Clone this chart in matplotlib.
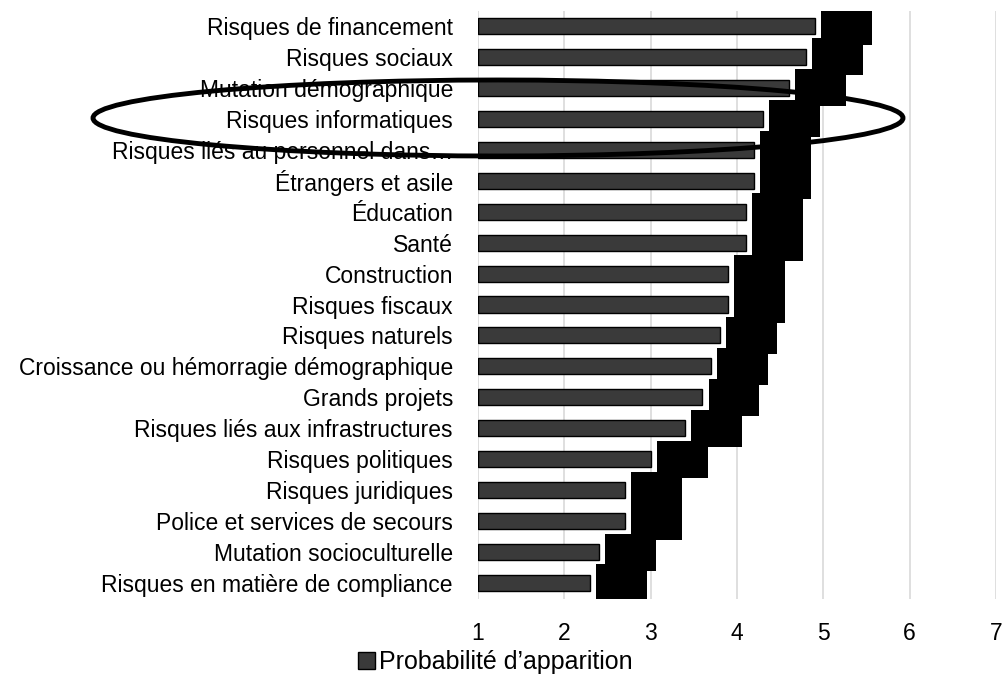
import numpy as np
import matplotlib.pyplot as plt
from matplotlib.patches import Ellipse, Patch

plt.rcParams['font.family'] = ['Liberation Sans', 'DejaVu Sans']

# catégories (de haut en bas)
categories = ["Risques de financement", "Risques sociaux", "Mutation démographique",
              "Risques informatiques", "Risques liés au personnel dans…",
              "Étrangers et asile", "Éducation", "Santé", "Construction",
              "Risques fiscaux", "Risques naturels",
              "Croissance ou hémorragie démographique", "Grands projets",
              "Risques liés aux infrastructures", "Risques politiques",
              "Risques juridiques", "Police et services de secours",
              "Mutation socioculturelle", "Risques en matière de compliance"]
# probabilité d'apparition
values = [4.9, 4.8, 4.6, 4.3, 4.2, 4.2, 4.1, 4.1, 3.9, 3.9, 3.8, 3.7, 3.6,
          3.4, 3.0, 2.7, 2.7, 2.4, 2.3]
xticks = [1, 2, 3, 4, 5, 6, 7]

vals = np.array(values)
y = np.arange(len(categories))

fig = plt.figure(figsize=(10.04, 6.75), dpi=100)
ax = fig.add_axes([478/1004, 1-598.5/675, (996-478)/1004, 588/675])

# blocs noirs au bout des barres
ax.barh(y, 0.59, left=vals + 0.07, height=1.2, color='black', zorder=2)
# barres
ax.barh(y, vals - 1, left=1, height=0.52, color='#3a3a3a',
        edgecolor='black', linewidth=1, zorder=3)

ax.set_xlim(1, 7)
ax.set_ylim(len(categories) - 0.5, -0.5)
ax.set_xticks(xticks)
ax.set_xticklabels([str(t) for t in xticks], fontsize=16.5)
ax.set_yticks(y)
ax.set_yticklabels(categories, fontsize=16.5)
ax.tick_params(axis='y', length=0, pad=18)
ax.tick_params(axis='x', length=0, pad=17)
ax.grid(axis='x', color='#d9d9d9', linewidth=1.2, zorder=0)
ax.set_axisbelow(True)
for s in ax.spines.values():
    s.set_visible(False)

handle = Patch(facecolor='#3a3a3a', edgecolor='black', linewidth=1)
fig.legend([handle], ["Probabilité d’apparition"], loc='center',
           bbox_to_anchor=(495/1004, 1-662/675), frameon=False, fontsize=18,
           handlelength=0.7, handleheight=0.7, handletextpad=0.15)

# ellipse de mise en évidence
ell = Ellipse((498/1004, 1-118/675), 810/1004, 76/675, transform=fig.transFigure,
              fill=False, edgecolor='black', linewidth=3.5, zorder=10)
fig.patches.append(ell)

fig.savefig("out.png", dpi=100)
